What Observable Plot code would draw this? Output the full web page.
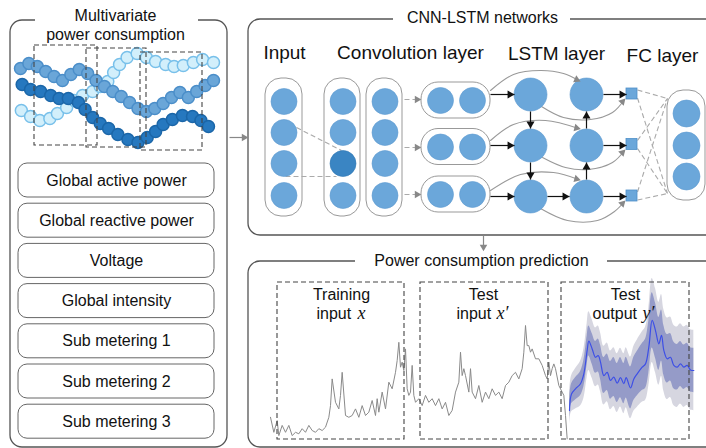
<!DOCTYPE html>
<html><head><meta charset="utf-8">
<script src="https://cdn.jsdelivr.net/npm/d3@7"></script>
<script src="https://cdn.jsdelivr.net/npm/@observablehq/plot@0.6"></script>
<style>html,body{margin:0;padding:0;background:#fff}svg{display:block}</style>
</head><body><div id="chart"></div>
<script>
// ================= DATA =================
const panelTitles = ["Multivariate", "power consumption", "CNN-LSTM networks", "Power consumption prediction"];
const featureNames = ["Global active power", "Global reactive power", "Voltage", "Global intensity",
  "Sub metering 1", "Sub metering 2", "Sub metering 3"];
const layerNames = ["Input", "Convolution layer", "LSTM layer", "FC layer"];
const windowTitles = ["Training", "Test", "Test"];
const windowSubs = ["input", "input", "output"];
const windowVars = ["x", "x\u2032", "y\u2032"];

// mini multivariate series: [step, value]
const seriesLight = [[0.1,4.0],[1.2,3.4],[2.3,3.0],[3.5,3.2],[4.4,3.7],[5.5,4.3],[6.4,5.0],[7.4,5.5],[8.6,5.9],
  [9.5,6.4],[10.4,6.9],[11.1,7.8],[11.8,8.6],[12.7,9.3],[13.9,9.7],[15.0,9.3],[16.1,8.9],[17.3,8.6],[18.3,8.4],
  [19.4,8.5],[20.6,8.8],[21.7,9.1],[23.0,8.8]];
const seriesMedium = [[0,8.2],[1,8.7],[2,8.4],[3,7.9],[4,7.4],[5,7.0],[6,7.6],[7,8.1],[8,7.7],[9,7.0],[10,6.4],
  [11,5.9],[12,5.4],[13,4.8],[14,4.2],[15,3.9],[16,4.2],[17,4.7],[18,5.3],[19,5.8],[20,5.3],[21,5.9],[22,6.5],[23,7.0]];
const seriesDark = [[0.2,6.6],[1.2,6.1],[2.4,5.9],[3.6,5.5],[4.6,5.2],[5.7,5.2],[6.9,4.8],[7.7,4.1],[8.6,3.3],
  [9.5,2.7],[10.5,2.2],[11.6,1.6],[12.8,1.1],[14.0,0.8],[15.1,1.3],[16.1,1.9],[17.0,2.6],[18.1,3.1],[19.3,3.5],
  [20.5,3.4],[21.5,3.0],[22.4,2.4]];

// observed power (kW) vs hour
const observed = [[0,0.74],[2,0.24],[4,0.63],[5,0.13],[7,0.47],[9,0.24],[11,0.47],[13,0.13],[15,0.24],[17,0.19],
  [19,0.36],[21,0.24],[23,0.47],[25,0.30],[27,0.24],[29,0.36],[31,0.30],[33,0.41],[35,0.74],[36,1.13],[37,2.02],
  [39,1.24],[41,1.02],[42,1.47],[43,2.24],[45,0.80],[47,0.74],[49,0.80],[51,1.02],[53,0.74],[55,1.13],[57,0.80],
  [59,0.91],[61,1.30],[63,0.80],[64,1.36],[65,0.91],[67,1.58],[69,1.02],[71,1.91],[73,1.69],[75,2.24],[76,2.63],
  [77,3.24],[78,2.41],[79,2.58],[80,2.30],[81,3.02],[82,1.69],[83,1.47],[84,1.58],[85,2.47],[86,1.47],[87,1.24],
  [89,1.36],[91,1.13],[93,1.47],[95,1.24],[97,1.36],[99,1.13],[101,1.36],[103,1.02],[105,1.24],[107,0.80],
  [109,0.97],[111,1.58],[113,1.91],[114,2.91],[115,2.13],[116,2.36],[117,2.13],[119,1.58],[120,2.36],[121,1.58],
  [123,1.36],[125,1.80],[127,1.24],[129,1.58],[131,1.36],[133,1.69],[135,1.47],[137,1.58],[139,1.36],[141,1.80],
  [143,1.91],[145,2.13],[147,2.24],[149,2.02],[151,2.36],[152,2.91],[153,3.80],[154,3.13],[155,3.13],[156,2.91],
  [157,3.02],[159,2.69],[161,2.69],[163,2.47],[165,2.13],[166,2.02],[167,2.58],[168,2.13],[169,2.36],[170,2.52],
  [171,2.36],[173,1.80],[175,1.58],[176,1.47],[177,0.80],[178,0.02]];

// predicted mean (kW) vs hour
const predicted = [[179.4,0.97],[180.6,1.52],[183,1.69],[186,1.86],[188,2.19],[190,2.97],[191,3.28],[193,3.02],
  [195,2.74],[196.6,2.80],[198,2.58],[200,2.13],[202,2.24],[204,1.97],[206,2.08],[208,1.88],[210,2.06],[212,1.86],
  [213.4,2.06],[216,1.72],[218,2.02],[220,2.19],[223,2.41],[225,2.52],[227,3.08],[229,3.97],[231,3.63],[233,3.19],
  [234.6,3.47],[236,2.97],[238,2.69],[240,2.74],[242,2.47],[244,2.41],[246,2.52],[248,2.41],[250,2.47],[252,2.32],[254,2.30]];
// uncertainty half-widths (kW)
const bandInner = [0.28,0.33,0.37,0.40,0.44,0.48,0.50,0.51,0.53,0.55,0.57,0.60,0.61,0.63,0.65,0.65,0.67,0.67,0.68,0.70,
  0.72,0.74,0.78,0.82,0.87,0.92,0.92,0.88,0.85,0.83,0.81,0.79,0.78,0.76,0.75,0.74,0.74,0.74,0.74];
const bandOuter = [0.50,0.60,0.67,0.74,0.82,0.90,0.98,0.98,0.98,0.98,0.98,0.98,0.98,0.98,0.98,0.98,0.98,1.00,1.00,1.03,
  1.08,1.12,1.17,1.22,1.30,1.40,1.40,1.38,1.36,1.36,1.36,1.34,1.34,1.34,1.34,1.34,1.34,1.34,1.34];

// ================= LAYOUT =================
const W = 706, H = 448;
const SANS = "'Liberation Sans', Arial, Helvetica, sans-serif";
const SERIF = "'Liberation Serif', 'Times New Roman', serif";
const BLUE = "#6ba7da", BLUE_DARK = "#3a85c3";

const miniX = d3.scaleLinear([0, 23], [20, 213]);
const miniY = d3.scaleLinear([0, 10], [150, 50]);
const tsX = d3.scaleLinear([0, 180], [270, 570]);
const tsY = d3.scaleLinear([0, 4], [439, 319]);

const marks = [];

// panels
const panels = [
  {x1: 10, x2: 227, y1: 20, y2: 447},
  {x1: 248, x2: 720, y1: 19, y2: 235},
  {x1: 248, x2: 720, y1: 261, y2: 447}
];
marks.push(Plot.rect(panels, {x1: "x1", x2: "x2", y1: "y1", y2: "y2", rx: 12, fill: "white", stroke: "#555", strokeWidth: 1.3}));
const gaps = [
  {x1: 35, x2: 198, y1: 12, y2: 27},
  {x1: 393, x2: 570, y1: 11, y2: 26},
  {x1: 355, x2: 607, y1: 254, y2: 268}
];
marks.push(Plot.rect(gaps, {x1: "x1", x2: "x2", y1: "y1", y2: "y2", fill: "white"}));

// ---- left panel: mini series
const mini = [
  {data: seriesLight, fill: "#d2effb", stroke: "#78c0ea"},
  {data: seriesMedium, fill: "#6aa6d8", stroke: "#4b8ec9"},
  {data: seriesDark, fill: "#2678bf", stroke: "#1b66a8"}
];
for (const s of mini) {
  marks.push(Plot.dot(s.data, {x: d => miniX(d[0]), y: d => miniY(d[1]), r: 6, fill: s.fill, stroke: s.stroke, strokeWidth: 1.5}));
}
const windowsMini = [
  {x1: 34, x2: 97, y1: 45, y2: 145},
  {x1: 86, x2: 146, y1: 48, y2: 147},
  {x1: 140, x2: 202, y1: 52, y2: 150}
];
marks.push(Plot.rect(windowsMini, {x1: "x1", x2: "x2", y1: "y1", y2: "y2", fill: "none", stroke: "#444", strokeWidth: 1.1, strokeDasharray: "5,3"}));

// feature boxes
const featRows = featureNames.map((name, i) => ({name, cy: 180 + i * 40.2}));
marks.push(Plot.rect(featRows, {x1: 18, x2: 214, y1: d => d.cy - 17, y2: d => d.cy + 17, rx: 9, fill: "white", stroke: "#666", strokeWidth: 1}));
marks.push(Plot.text(featRows, {x: 116, y: "cy", text: "name", fontSize: 16, fontFamily: SANS, fill: "#111"}));

// titles
marks.push(Plot.text([panelTitles[0]], {x: 115, y: 15.5, text: d => d, fontSize: 16, fontFamily: SANS, fill: "#111"}));
marks.push(Plot.text([panelTitles[1]], {x: 115, y: 34, text: d => d, fontSize: 16, fontFamily: SANS, fill: "#111"}));
marks.push(Plot.text([panelTitles[2]], {x: 482, y: 17.5, text: d => d, fontSize: 16, fontFamily: SANS, fill: "#111"}));
marks.push(Plot.text([panelTitles[3]], {x: 481, y: 260.5, text: d => d, fontSize: 16, fontFamily: SANS, fill: "#111"}));
const layerX = [284, 410, 556, 662], layerY = [52, 52, 53, 55];
marks.push(Plot.text(layerNames, {x: (d, i) => layerX[i], y: (d, i) => layerY[i], text: d => d, fontSize: 19, fontFamily: SANS, fill: "#111"}));

// ---- middle panel
const rowsIn = [101, 132, 163, 195];
const colBoxes = [
  {x1: 265, x2: 302, y1: 78, y2: 216},
  {x1: 324, x2: 360, y1: 78, y2: 216},
  {x1: 366, x2: 402, y1: 78, y2: 216}
];
marks.push(Plot.rect(colBoxes, {x1: "x1", x2: "x2", y1: "y1", y2: "y2", rx: 16, fill: "white", stroke: "#999", strokeWidth: 1}));
const pairRows = [100, 146.5, 194];
marks.push(Plot.rect(pairRows, {x1: 421, x2: 490, y1: d => d - 18, y2: d => d + 18, rx: 17, fill: "white", stroke: "#999", strokeWidth: 1}));
const fcBox = [{x1: 667, x2: 705, y1: 90, y2: 200}];
marks.push(Plot.rect(fcBox, {x1: "x1", x2: "x2", y1: "y1", y2: "y2", rx: 16, fill: "white", stroke: "#999", strokeWidth: 1}));

const nodes = [];
for (const cx of [283.5, 342.5, 384.5]) for (const cy of rowsIn) nodes.push({x: cx, y: cy, r: 13, dark: cx === 342.5 && cy === 163});
for (const cy of pairRows) for (const cx of [440, 472]) nodes.push({x: cx, y: cy, r: 13});
const lstmRows = [94, 145, 196];
for (const cy of lstmRows) for (const cx of [530, 586]) nodes.push({x: cx, y: cy, r: 16.5});
for (const cy of [113, 145, 176]) nodes.push({x: 686, y: cy, r: 13.5});

// dashed connectors
const grayDash = [
  {x1: 296, y1: 127, x2: 341, y2: 150},
  {x1: 285, y1: 176, x2: 336, y2: 176},
  {x1: 404, y1: 99, x2: 415, y2: 99},
  {x1: 404, y1: 147, x2: 415, y2: 147},
  {x1: 404, y1: 194, x2: 415, y2: 194}
];
const sqRows = [93.5, 144, 195.5];
for (const sy of sqRows) {
  grayDash.push({x1: 637, y1: sy - 4, x2: 667, y2: 98});
  grayDash.push({x1: 637, y1: sy + 4, x2: 667, y2: 193});
}
marks.push(Plot.link(grayDash, {x1: "x1", y1: "y1", x2: "x2", y2: "y2", stroke: "#aaa", strokeWidth: 1.1, strokeDasharray: "5,3"}));

// curved gray arrows
const curves = [
  [[490, 90], [513, 74], [540, 70], [563, 73], [578, 80]],
  [[490, 140], [513, 124], [545, 120], [578, 128]],
  [[490, 190], [520, 174], [553, 172], [578, 179]],
  [[541, 106], [563, 117], [590, 119], [612, 112], [624, 99]],
  [[542, 157], [565, 167], [588, 169], [612, 162], [624, 150]],
  [[540, 208], [567, 220], [597, 220], [614, 211], [624, 201]]
];
const curvePts = curves.flatMap((c, id) => c.map(p => ({id, x: p[0], y: p[1]})));
marks.push(Plot.line(curvePts, {x: "x", y: "y", z: "id", curve: "catmull-rom", stroke: "#999", strokeWidth: 1.1}));

// arrow heads helper
function head(tip, from, off) {
  const dx = tip[0] - from[0], dy = tip[1] - from[1], L = Math.hypot(dx, dy);
  return {x: tip[0] - dx / L * off, y: tip[1] - dy / L * off, rot: Math.atan2(dx, -dy) * 180 / Math.PI};
}
const grayHeads = [];
for (const y of [99, 147, 194]) grayHeads.push(head([421, y], [404, y], 4.5));
for (let i = 0; i < 3; i++) { const c = curves[i]; grayHeads.push(head(c[c.length - 1], c[c.length - 2], 2)); }
grayHeads.push(head([248, 137], [229, 137], 4.5));
grayHeads.push(head([483, 251], [483, 236], 4.5));
for (let i = 3; i < 6; i++) { const c = curves[i]; grayHeads.push(head(c[c.length - 1], c[c.length - 2], 3)); }

// nodes drawn
marks.push(Plot.dot(nodes, {x: "x", y: "y", r: "r", fill: d => d.dark ? BLUE_DARK : BLUE, stroke: d => d.dark ? "#2f77b3" : "#5e9bd0", strokeWidth: 0.6}));
// FC squares
marks.push(Plot.rect(sqRows, {x1: 626, x2: 637, y1: d => d - 5.5, y2: d => d + 5.5, fill: BLUE, stroke: "#4f8fc8", strokeWidth: 0.8}));

// black arrows
const blackArrows = [
  [490, 94, 514, 94], [490, 145, 514, 145], [490, 196, 514, 196],
  [530, 111, 530, 128], [530, 162, 530, 179],
  [586, 179, 586, 162], [586, 128, 586, 111],
  [547, 196, 569, 196],
  [603, 94, 626, 94], [603, 145, 626, 145], [603, 196, 626, 196]
];
marks.push(Plot.link(blackArrows, {x1: d => d[0], y1: d => d[1], x2: d => d[2], y2: d => d[3], stroke: "#111", strokeWidth: 1.2}));
const blackHeads = blackArrows.map(a => head([a[2], a[3]], [a[0], a[1]], 4.6));
marks.push(Plot.dot(blackHeads, {x: "x", y: "y", rotate: "rot", symbol: "triangle", r: 3, fill: "#111", stroke: "none"}));

// inter-panel arrows
marks.push(Plot.link([{x1: 229, y1: 137, x2: 244, y2: 137}, {x1: 483, y1: 235, x2: 483, y2: 247}],
  {x1: "x1", y1: "y1", x2: "x2", y2: "y2", stroke: "#888", strokeWidth: 1.2}));
marks.push(Plot.dot(grayHeads, {x: "x", y: "y", rotate: "rot", symbol: "triangle", r: 2.8, fill: "#888", stroke: "none"}));

// ---- bottom panel: time series
const band = predicted.map((d, i) => ({t: d[0], m: d[1], i1: d[1] - bandInner[i], i2: d[1] + bandInner[i], o1: d[1] - bandOuter[i], o2: d[1] + bandOuter[i]}));
marks.push(Plot.line(observed, {x: d => tsX(d[0]), y: d => tsY(d[1]), stroke: "#8a8a8a", strokeWidth: 1}));
marks.push(Plot.area(band, {x1: d => tsX(d.t), y1: d => tsY(d.o1), y2: d => tsY(d.o2), fill: "#d6d6e0", curve: "catmull-rom"}));
marks.push(Plot.area(band, {x1: d => tsX(d.t), y1: d => tsY(d.i1), y2: d => tsY(d.i2), fill: "#959bc8", curve: "catmull-rom"}));
marks.push(Plot.line(band, {x: d => tsX(d.t), y: d => tsY(d.m), stroke: "#3d4fe6", strokeWidth: 1.2, curve: "catmull-rom"}));

const windowsTS = [
  {x1: 277, x2: 404, cx: 341, sx: 316, vx: 357},
  {x1: 420, x2: 548, cx: 483, sx: 456, vx: 496},
  {x1: 561, x2: 689, cx: 625, sx: 592, vx: 642}
];
marks.push(Plot.rect(windowsTS, {x1: "x1", x2: "x2", y1: 282, y2: 439, fill: "none", stroke: "#444", strokeWidth: 1.1, strokeDasharray: "5,3"}));
marks.push(Plot.text(windowsTS, {x: "cx", y: 294.5, text: (d, i) => windowTitles[i], fontSize: 16, fontFamily: SANS, fill: "#111"}));
marks.push(Plot.text(windowsTS, {x: "sx", y: 313, text: (d, i) => windowSubs[i], textAnchor: "start", fontSize: 16, fontFamily: SANS, fill: "#111"}));
marks.push(Plot.text(windowsTS, {x: "vx", y: 313, text: (d, i) => windowVars[i], textAnchor: "start", fontSize: 18, fontStyle: "italic", fontFamily: SERIF, fill: "#111"}));

const chart = Plot.plot({
  width: W, height: H, margin: 0,
  x: {domain: [0, W], range: [0, W], axis: null},
  y: {domain: [0, H], range: [0, H], axis: null},
  r: {type: "identity"},
  style: {background: "white", fontFamily: SANS, overflow: "hidden"},
  marks
});
document.getElementById("chart").append(chart);
</script></body></html>
